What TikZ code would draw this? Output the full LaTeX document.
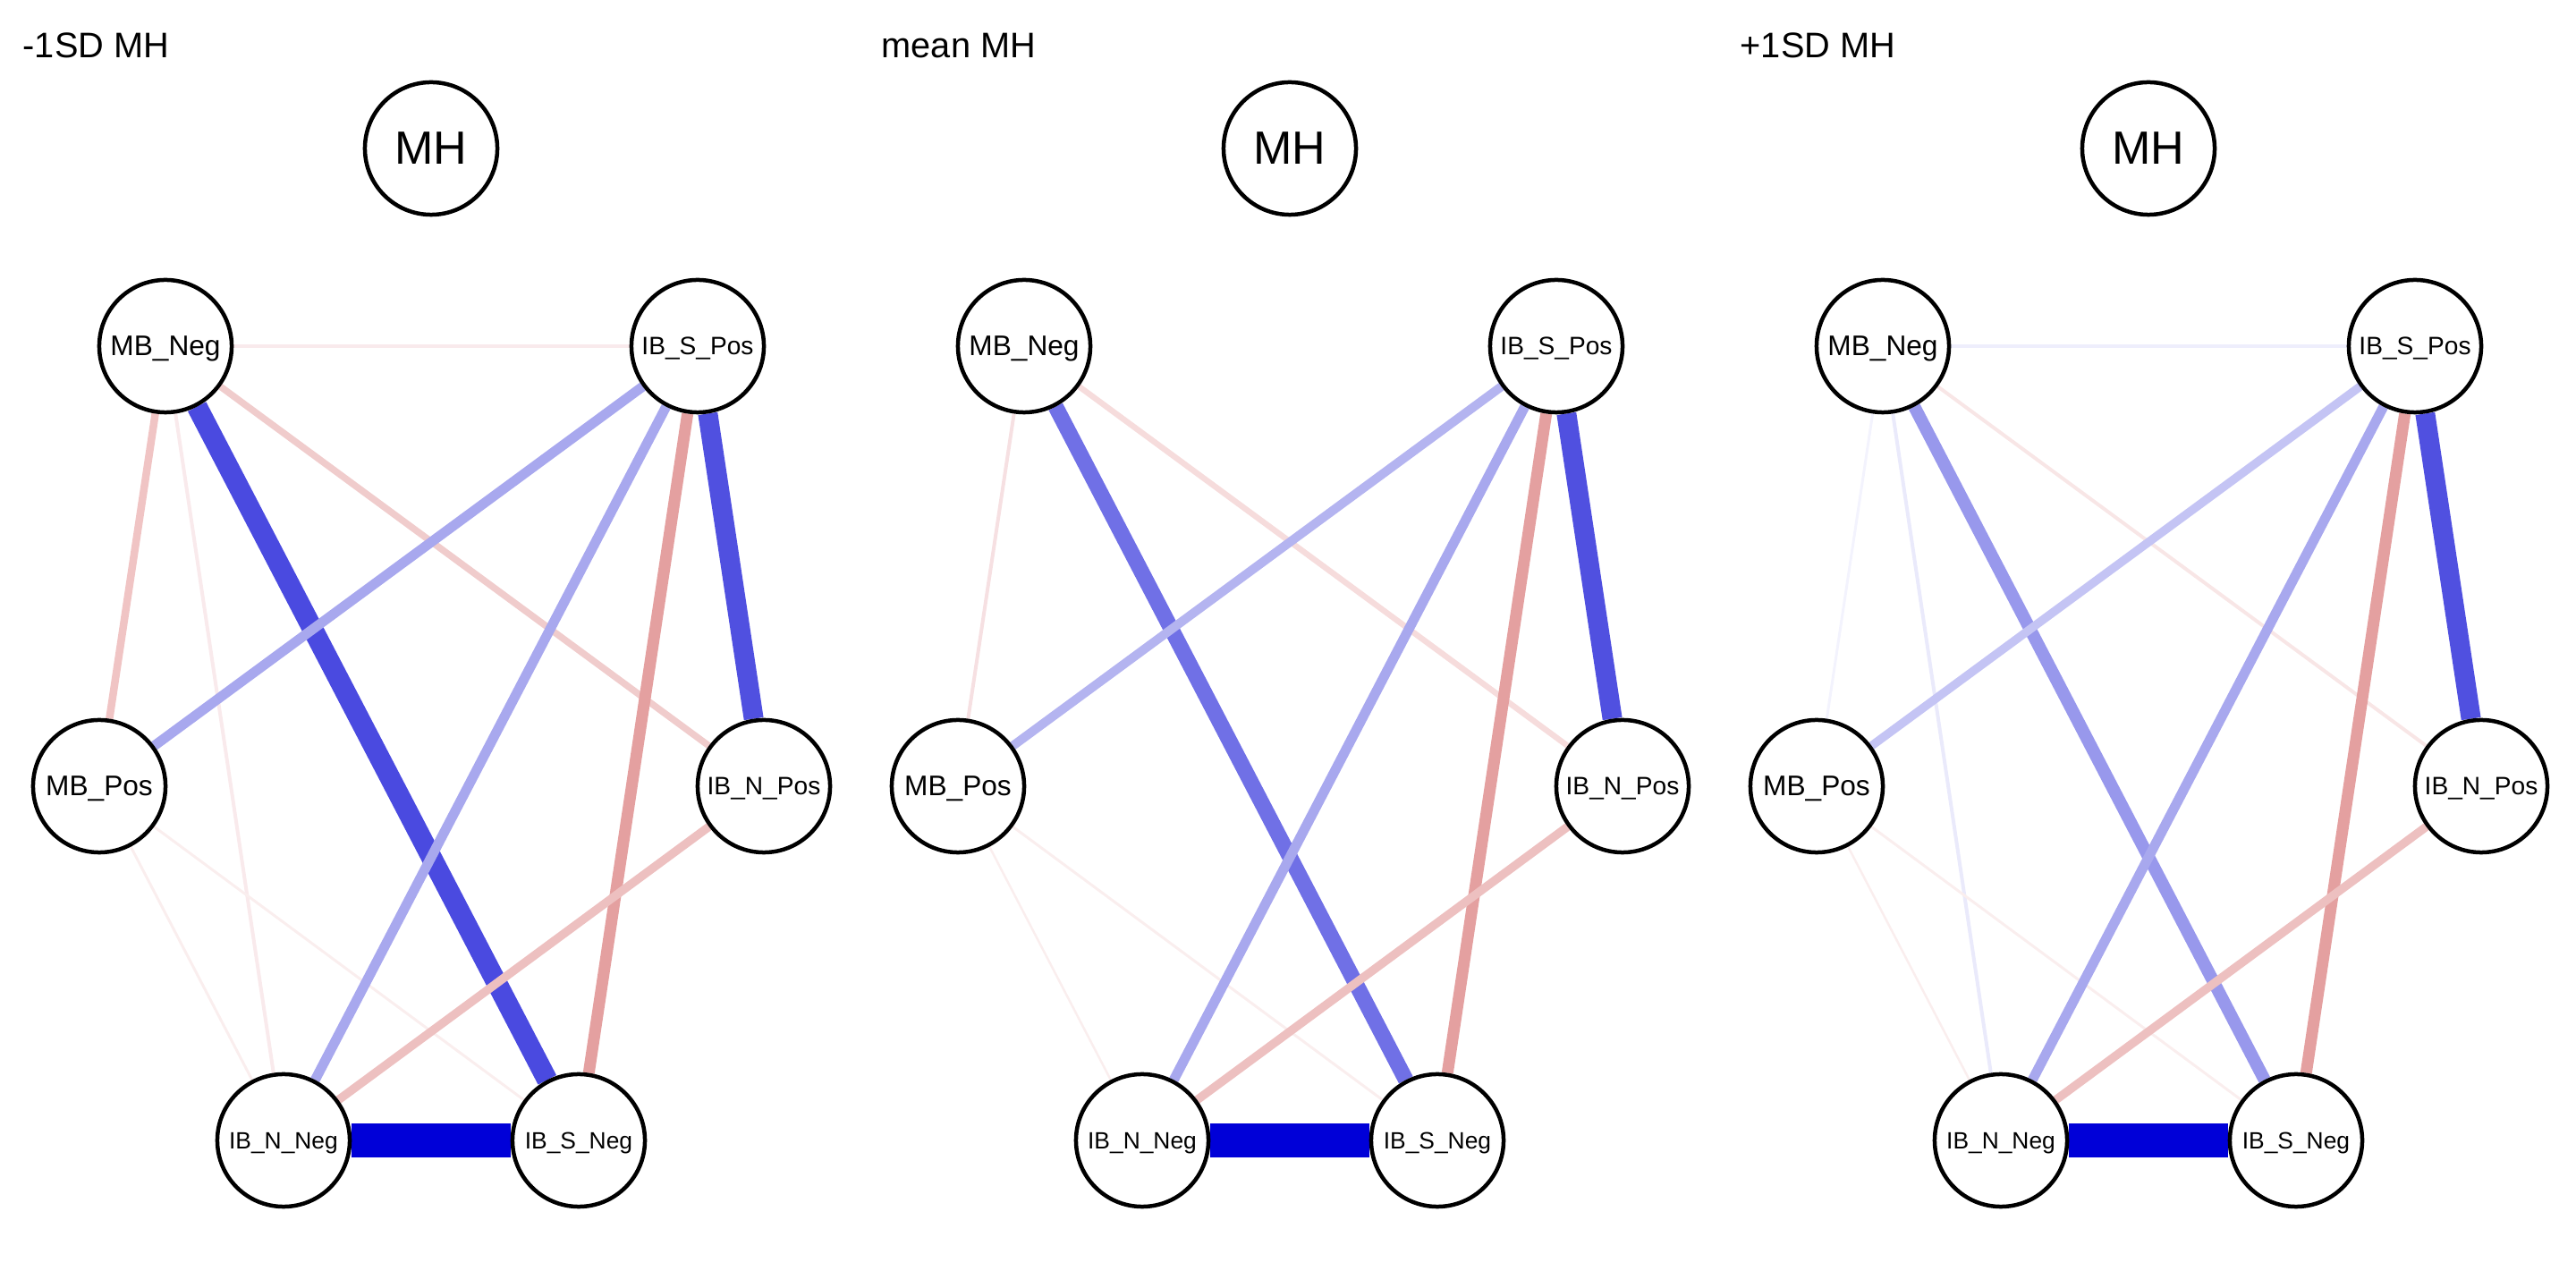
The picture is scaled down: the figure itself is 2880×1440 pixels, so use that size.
\documentclass[tikz,border=0pt]{standalone}
\usepackage{fontspec}
\setmainfont{Liberation Sans}
\usetikzlibrary{positioning,backgrounds}

\definecolor{bdark}{HTML}{0000D8}
\definecolor{bstrong}{HTML}{4A4AE0}
\definecolor{bstrongb}{HTML}{5050E0}
\definecolor{bmid}{HTML}{7070E6}
\definecolor{bsoft}{HTML}{9898EC}
\definecolor{blight}{HTML}{A8A8EE}
\definecolor{blightb}{HTML}{B4B4F0}
\definecolor{blightc}{HTML}{C4C4F4}
\definecolor{bfaint}{HTML}{EEEEFC}
\definecolor{bfaintb}{HTML}{EAEAFB}
\definecolor{bfaintc}{HTML}{F3F3FD}
\definecolor{rmid}{HTML}{E4A0A0}
\definecolor{rsoft}{HTML}{EDC0C0}
\definecolor{rsoftb}{HTML}{F0C4C4}
\definecolor{rsoftc}{HTML}{F0CCCC}
\definecolor{rlight}{HTML}{F6DCDC}
\definecolor{rlightb}{HTML}{F6E0E2}
\definecolor{rfaint}{HTML}{F9EAEC}
\definecolor{rfaintb}{HTML}{FAEEEE}
\definecolor{rfaintc}{HTML}{F8E6E6}

\begin{document}
\begin{tikzpicture}[%
        x=0.01cm, y=-0.01cm,
        vertex/.style={circle, draw, line width=0.45mm, fill=white, minimum size=14.8mm, inner sep=0pt, text depth=0pt},
        big/.style={font=\fontsize{14.8}{15}\selectfont},
        mb/.style={font=\fontsize{9}{9}\selectfont},
        ibp/.style={font=\fontsize{8}{8}\selectfont},
        ibn/.style={font=\fontsize{7.5}{7.5}\selectfont},
        panel/.style={anchor=base west, inner sep=0pt, font=\fontsize{11.3}{13}\selectfont}
      ]
      \useasboundingbox (0,0) rectangle (2880,1440);
      % -1SD MH
      \node [panel] (t1) at (25,65) {-1SD MH};
      \node [vertex, big] (mh1) at (482,166) {MH};
      \node [vertex, mb] (mbn1) at (185,387) {MB\_Neg};
      \node [vertex, ibp] (isp1) at (780,387) {IB\_S\_Pos};
      \node [vertex, mb] (mbp1) at (111,879) {MB\_Pos};
      \node [vertex, ibp] (inp1) at (854,879) {IB\_N\_Pos};
      \node [vertex, ibn] (inn1) at (317,1275) {IB\_N\_Neg};
      \node [vertex, ibn] (isn1) at (647,1275) {IB\_S\_Neg};
      % mean MH
      \node [panel] (t2) at (985,65) {mean MH};
      \node [vertex, big] (mh2) at (1442,166) {MH};
      \node [vertex, mb] (mbn2) at (1145,387) {MB\_Neg};
      \node [vertex, ibp] (isp2) at (1740,387) {IB\_S\_Pos};
      \node [vertex, mb] (mbp2) at (1071,879) {MB\_Pos};
      \node [vertex, ibp] (inp2) at (1814,879) {IB\_N\_Pos};
      \node [vertex, ibn] (inn2) at (1277,1275) {IB\_N\_Neg};
      \node [vertex, ibn] (isn2) at (1607,1275) {IB\_S\_Neg};
      % +1SD MH
      \node [panel] (t3) at (1945,65) {+1SD MH};
      \node [vertex, big] (mh3) at (2402,166) {MH};
      \node [vertex, mb] (mbn3) at (2105,387) {MB\_Neg};
      \node [vertex, ibp] (isp3) at (2700,387) {IB\_S\_Pos};
      \node [vertex, mb] (mbp3) at (2031,879) {MB\_Pos};
      \node [vertex, ibp] (inp3) at (2774,879) {IB\_N\_Pos};
      \node [vertex, ibn] (inn3) at (2237,1275) {IB\_N\_Neg};
      \node [vertex, ibn] (isn3) at (2567,1275) {IB\_S\_Neg};
      \begin{pgfonlayer}{background}
      \path (mbn1) edge[line width=0.45mm, rfaint] (isp1)
      (mbn1) edge[line width=2.3mm, bstrong] (isn1)
      (mbn1) edge[line width=0.75mm, rsoftc] (inp1)
      (mbn1) edge[line width=0.85mm, rsoftb] (mbp1)
      (mbn1) edge[line width=0.4mm, rfaint] (inn1)
      (mbp1) edge[line width=1.1mm, blight] (isp1)
      (mbp1) edge[line width=0.3mm, rfaintb] (inn1)
      (mbp1) edge[line width=0.3mm, rfaintb] (isn1)
      (isp1) edge[line width=1.1mm, blight] (inn1)
      (isp1) edge[line width=1.3mm, rmid] (isn1)
      (isp1) edge[line width=2.2mm, bstrongb] (inp1)
      (inp1) edge[line width=0.95mm, rsoft] (inn1)
      (inn1) edge[line width=3.8mm, bdark] (isn1);
      \path (mbn2) edge[line width=0.4mm, rlightb] (mbp2)
      (mbn2) edge[line width=1.75mm, bmid] (isn2)
      (mbn2) edge[line width=0.65mm, rlight] (inp2)
      (mbp2) edge[line width=1mm, blightb] (isp2)
      (mbp2) edge[line width=0.25mm, rfaintb] (inn2)
      (mbp2) edge[line width=0.3mm, rfaintb] (isn2)
      (isp2) edge[line width=1.1mm, blight] (inn2)
      (isp2) edge[line width=1.3mm, rmid] (isn2)
      (isp2) edge[line width=2.2mm, bstrongb] (inp2)
      (inp2) edge[line width=0.95mm, rsoft] (inn2)
      (inn2) edge[line width=3.8mm, bdark] (isn2);
      \path (mbn3) edge[line width=0.45mm, bfaint] (isp3)
      (mbn3) edge[line width=0.3mm, bfaintc] (mbp3)
      (mbn3) edge[line width=0.4mm, bfaintb] (inn3)
      (mbn3) edge[line width=1.4mm, bsoft] (isn3)
      (mbn3) edge[line width=0.4mm, rfaintc] (inp3)
      (mbp3) edge[line width=0.95mm, blightc] (isp3)
      (mbp3) edge[line width=0.25mm, rfaintb] (inn3)
      (mbp3) edge[line width=0.3mm, rfaintb] (isn3)
      (isp3) edge[line width=1.1mm, blight] (inn3)
      (isp3) edge[line width=1.3mm, rmid] (isn3)
      (isp3) edge[line width=2.2mm, bstrongb] (inp3)
      (inp3) edge[line width=0.95mm, rsoft] (inn3)
      (inn3) edge[line width=3.8mm, bdark] (isn3);
      \end{pgfonlayer}
    \end{tikzpicture}
\end{document}
